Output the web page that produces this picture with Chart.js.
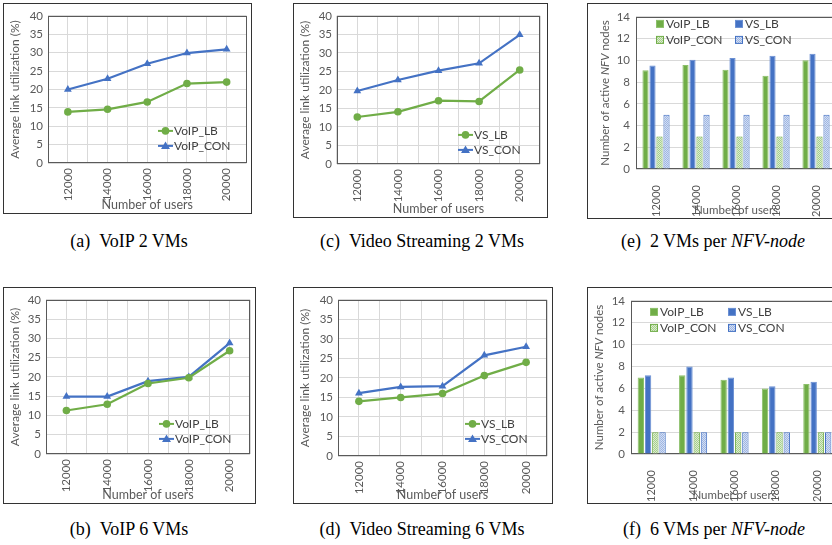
<!DOCTYPE html>
<html><head><meta charset="utf-8">
<script src="https://cdn.jsdelivr.net/npm/chart.js@4.4.1/dist/chart.umd.min.js"></script>
<style>
html,body{margin:0;padding:0;background:#fff;}
body{width:832px;height:545px;overflow:hidden;position:relative;}
.panel{position:absolute;border:1px solid #333;box-sizing:border-box;background:#fff;}
.panel canvas{display:block;}
.cap{position:absolute;font-family:'Liberation Serif','DejaVu Serif',serif;font-size:18px;white-space:nowrap;transform:translate(-50%,-50%);color:#000;}
</style></head>
<body>
<div class="panel" id="pa"><canvas id="ca"></canvas></div>
<div class="panel" id="pc"><canvas id="cc"></canvas></div>
<div class="panel" id="pe"><canvas id="ce"></canvas></div>
<div class="panel" id="pb"><canvas id="cb"></canvas></div>
<div class="panel" id="pd"><canvas id="cd"></canvas></div>
<div class="panel" id="pf"><canvas id="cf"></canvas></div>
<div class="cap" style="left:129px;top:241px">(a)&ensp;VoIP 2 VMs</div>
<div class="cap" style="left:422px;top:241px">(c)&ensp;Video Streaming 2 VMs</div>
<div class="cap" style="left:713px;top:241px">(e)&ensp;2 VMs per <i>NFV-node</i></div>
<div class="cap" style="left:129px;top:529px">(b)&ensp;VoIP 6 VMs</div>
<div class="cap" style="left:422px;top:529px">(d)&ensp;Video Streaming 6 VMs</div>
<div class="cap" style="left:714px;top:529px">(f)&ensp;6 VMs per <i>NFV-node</i></div>
<script>
// ---------- data ----------
const users = ['12000','14000','16000','18000','20000'];

// (a) VoIP 2 VMs
const voip2_LB  = [13.9, 14.6, 16.6, 21.6, 22.0];
const voip2_CON = [20.0, 22.9, 27.0, 29.9, 30.9];
// (c) Video Streaming 2 VMs
const vs2_LB  = [12.7, 14.1, 17.1, 16.9, 25.4];
const vs2_CON = [19.7, 22.7, 25.2, 27.2, 34.9];
// (b) VoIP 6 VMs
const voip6_LB  = [11.3, 12.9, 18.3, 19.8, 26.8];
const voip6_CON = [14.9, 14.9, 18.9, 20.0, 28.8];
// (d) Video Streaming 6 VMs
const vs6_LB  = [14.0, 15.0, 16.0, 20.6, 24.0];
const vs6_CON = [16.1, 17.7, 17.9, 25.8, 28.0];
// (e) active NFV nodes, 2 VMs per node
const nodes2_VoIP_LB  = [9.08, 9.58, 9.14, 8.58, 10.0];
const nodes2_VS_LB    = [9.52, 10.05, 10.22, 10.43, 10.6];
const nodes2_VoIP_CON = [3, 3, 3, 3, 3];
const nodes2_VS_CON   = [5, 5, 5, 5, 5];
// (f) active NFV nodes, 6 VMs per node
const nodes6_VoIP_LB  = [7.0, 7.2, 6.8, 6.0, 6.4];
const nodes6_VS_LB    = [7.2, 8.0, 7.0, 6.2, 6.6];
const nodes6_VoIP_CON = [2, 2, 2, 2, 2];
const nodes6_VS_CON   = [2, 2, 2, 2, 2];

// ---------- styling ----------
const GREEN = '#70ad47', BLUE = '#4472c4';
const TXT = '#595959', GRID = '#d9d9d9';
const FONT = 'Lato, "Liberation Sans", sans-serif';

function dotPattern(base, dot){
  const c = document.createElement('canvas'); c.width = 2; c.height = 2;
  const g = c.getContext('2d');
  g.fillStyle = base; g.fillRect(0,0,2,2);
  g.fillStyle = dot; g.fillRect(0,0,1,1); g.fillRect(1,1,1,1);
  return g.createPattern(c, 'repeat');
}
const patGreen = dotPattern('#dcecd0', '#a6cf8b');
const patBlue  = dotPattern('#d3def3', '#9db5e2');

const framePlugin = {
  id: 'frameRect',
  beforeDatasetsDraw(chart){
    const a = chart.chartArea, ctx = chart.ctx;
    ctx.save(); ctx.strokeStyle = '#595959'; ctx.lineWidth = 1;
    ctx.strokeRect(Math.round(a.left)+0.5, Math.round(a.top)+0.5,
                   Math.round(a.right-a.left)-1, Math.round(a.bottom-a.top)-1);
    ctx.restore();
  }
};

const legendPlugin = {
  id: 'cleg',
  afterDatasetsDraw(chart, args, o){
    const a = chart.chartArea, ctx = chart.ctx;
    ctx.save();
    ctx.font = '12px ' + FONT; ctx.textBaseline = 'middle'; ctx.fillStyle = '#404040';
    chart.data.datasets.forEach((ds, i) => {
      if (o.kind === 'line'){
        const x = a.left + o.x, y = a.top + o.y + i*o.dy;
        ctx.strokeStyle = ds.borderColor; ctx.lineWidth = 2;
        ctx.beginPath(); ctx.moveTo(x, y); ctx.lineTo(x+15, y); ctx.stroke();
        ctx.fillStyle = ds.borderColor;
        const cx = x+7.5;
        if (ds.pointStyle === 'triangle'){
          ctx.beginPath(); ctx.moveTo(cx, y-4.5); ctx.lineTo(cx+4.5, y+3); ctx.lineTo(cx-4.5, y+3); ctx.closePath(); ctx.fill();
        } else {
          ctx.beginPath(); ctx.arc(cx, y, 3.8, 0, Math.PI*2); ctx.fill();
        }
        ctx.fillStyle = '#404040';
        ctx.fillText(ds.label, x+16, y+0.5);
      } else {
        const col = i % 2, row = Math.floor(i/2);
        const x = a.left + o.x + col*o.dx, y = a.top + o.y + row*o.dy;
        ctx.fillStyle = ds.backgroundColor; ctx.fillRect(x-3.5, y-3.5, 7, 7);
        ctx.strokeStyle = ds.borderColor; ctx.lineWidth = 1; ctx.strokeRect(x-3.5, y-3.5, 7, 7);
        ctx.fillStyle = '#404040';
        ctx.fillText(ds.label, x+6, y+0.5);
      }
    });
    ctx.restore();
  }
};

const nfvTitlePlugin = {
  id: 'nfvTitle',
  afterDraw(chart, args, o){
    const a = chart.chartArea, ctx = chart.ctx;
    const parts = [['Number of active ', 'normal'], ['NFV', 'italic'], [' nodes', 'normal']];
    ctx.save();
    ctx.fillStyle = TXT; ctx.textBaseline = 'middle';
    let total = 0;
    parts.forEach(p => { ctx.font = p[1] + ' 11.5px ' + FONT; total += ctx.measureText(p[0]).width; });
    ctx.translate(o.x, (a.top + a.bottom)/2); ctx.rotate(-Math.PI/2);
    let x = -total/2;
    parts.forEach(p => { ctx.font = p[1] + ' 11.5px ' + FONT; ctx.fillText(p[0], x, 0); x += ctx.measureText(p[0]).width; });
    ctx.restore();
  }
};

function place(pid, cid, frame, plot){
  const p = document.getElementById(pid);
  p.style.left = frame.x+'px'; p.style.top = frame.y+'px';
  p.style.width = frame.w+'px'; p.style.height = frame.h+'px';
  const c = document.getElementById(cid);
  const cw = frame.w-2, ch = frame.h-2;
  c.width = cw; c.height = ch; c.style.width = cw+'px'; c.style.height = ch+'px';
  const cx = frame.x+1, cy = frame.y+1;
  return { c, yW: plot.l-cx, top: plot.t-cy, right: cx+cw-plot.r, xH: cy+ch-plot.b };
}

function xTicks(size, pad){
  return { color: TXT, font: {size: size, family: FONT}, minRotation: 90, maxRotation: 90, padding: pad, autoSkip: false };
}
function xTitle(size){
  return { display: true, text: 'Number of users', color: TXT, font: {size: size, family: FONT}, padding: {top: 0, bottom: 1} };
}

function lineChart(pid, cid, frame, plot, lb, con, names, leg){
  const g = place(pid, cid, frame, plot);
  return new Chart(g.c, {
    type: 'line',
    data: { labels: users, datasets: [
      { label: names[0], data: lb, borderColor: GREEN, backgroundColor: GREEN, borderWidth: 2.2,
        pointStyle: 'circle', pointRadius: 3.8, pointBackgroundColor: GREEN, pointBorderWidth: 0 },
      { label: names[1], data: con, borderColor: BLUE, backgroundColor: BLUE, borderWidth: 2.2,
        pointStyle: 'triangle', pointRadius: 4.5, pointBackgroundColor: BLUE, pointBorderWidth: 0 }
    ]},
    options: {
      responsive: false, animation: false, devicePixelRatio: 1,
      layout: { padding: { left: 0, top: g.top, right: g.right, bottom: 0 } },
      plugins: { legend: { display: false }, tooltip: { enabled: false },
                 cleg: { kind: 'line', x: leg.x, y: leg.y, dy: 15 } },
      scales: {
        x: { type: 'category', offset: true, position: 'bottom',
             grid: { color: GRID, offset: false, drawTicks: false }, border: { display: false },
             ticks: xTicks(11.5, 5), title: xTitle(12.5),
             afterFit: s => { s.height = g.xH; } },
        x2: { type: 'category', offset: true, position: 'bottom',
              grid: { color: GRID, offset: true, drawTicks: false }, border: { display: false },
              ticks: { display: false }, afterFit: s => { s.height = 0; } },
        y: { min: 0, max: 40, ticks: { stepSize: 5, color: TXT, font: {size: 11.5, family: FONT}, padding: 5 },
             grid: { color: GRID, drawTicks: false }, border: { display: false },
             title: { display: true, text: 'Average link utilization (%)', color: TXT, font: {size: 12, family: FONT}, padding: {top: 4, bottom: 2} },
             afterFit: s => { s.width = g.yW; } }
      }
    },
    plugins: [framePlugin, legendPlugin]
  });
}

function barChart(pid, cid, frame, plot, d1, d2, d3, d4, leg, titleX){
  const g = place(pid, cid, frame, plot);
  const common = { categoryPercentage: 0.7, barPercentage: 0.88, borderWidth: 1 };
  return new Chart(g.c, {
    type: 'bar',
    data: { labels: users, datasets: [
      Object.assign({ label: 'VoIP_LB',  data: d1, backgroundColor: GREEN, borderColor: '#8cc06a' }, common),
      Object.assign({ label: 'VS_LB',    data: d2, backgroundColor: BLUE,  borderColor: '#6a8fd3' }, common),
      Object.assign({ label: 'VoIP_CON', data: d3, backgroundColor: patGreen, borderColor: GREEN }, common),
      Object.assign({ label: 'VS_CON',   data: d4, backgroundColor: patBlue,  borderColor: BLUE }, common)
    ]},
    options: {
      responsive: false, animation: false, devicePixelRatio: 1,
      layout: { padding: { left: 0, top: g.top, right: g.right, bottom: 0 } },
      plugins: { legend: { display: false }, tooltip: { enabled: false },
                 cleg: { kind: 'bar', x: leg.x, y: leg.y, dx: leg.dx, dy: 16 },
                 nfvTitle: { x: titleX - frame.x - 1 } },
      scales: {
        x: { grid: { display: false }, border: { display: false },
             ticks: xTicks(11, 8), title: xTitle(11.5), afterFit: s => { s.height = g.xH; } },
        y: { min: 0, max: 14, ticks: { stepSize: 2, color: TXT, font: {size: 11.5, family: FONT}, padding: 6 },
             grid: { color: GRID, drawTicks: false }, border: { display: false },
             afterFit: s => { s.width = g.yW; } }
      }
    },
    plugins: [framePlugin, legendPlugin, nfvTitlePlugin]
  });
}

lineChart('pa','ca', {x:3,y:3,w:249,h:211},   {l:48,t:11,r:247,b:163},  voip2_LB, voip2_CON, ['VoIP_LB','VoIP_CON'], {x:110,y:115});
lineChart('pc','cc', {x:293,y:3,w:255,h:215}, {l:337,t:9,r:540,b:164},  vs2_LB, vs2_CON, ['VS_LB','VS_CON'], {x:121,y:119});
lineChart('pb','cb', {x:3,y:287,w:253,h:217}, {l:46,t:294,r:250,b:454}, voip6_LB, voip6_CON, ['VoIP_LB','VoIP_CON'], {x:113,y:124});
lineChart('pd','cd', {x:293,y:287,w:260,h:217},{l:338,t:294,r:547,b:456}, vs6_LB, vs6_CON, ['VS_LB','VS_CON'], {x:127,y:124});
barChart('pe','ce', {x:587,y:3,w:260,h:216},  {l:636,t:10,r:836,b:169}, nodes2_VoIP_LB, nodes2_VS_LB, nodes2_VoIP_CON, nodes2_VS_CON, {x:24,y:7,dx:79}, 605);
barChart('pf','cf', {x:587,y:287,w:260,h:217},{l:631,t:295,r:838,b:454}, nodes6_VoIP_LB, nodes6_VS_LB, nodes6_VoIP_CON, nodes6_VS_CON, {x:23,y:11,dx:78}, 599);
</script>
</body></html>
